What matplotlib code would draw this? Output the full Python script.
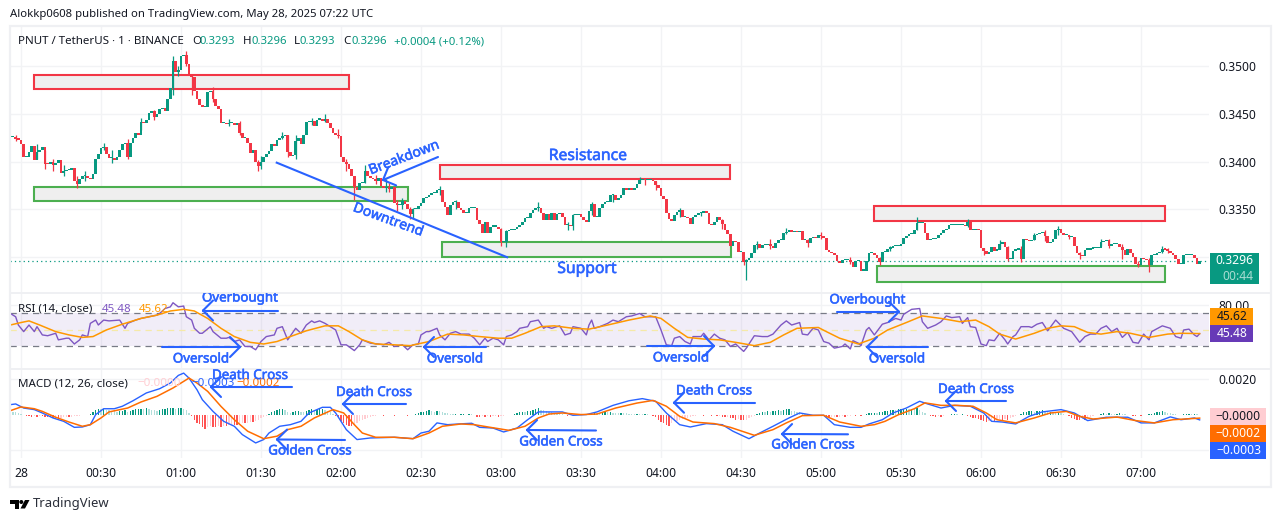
import numpy as np
import matplotlib
matplotlib.use("Agg")
import matplotlib.pyplot as plt
import matplotlib.patheffects as pe
from matplotlib.patches import Rectangle, Polygon, Circle

plt.rcParams['font.family'] = ['Noto Sans', 'DejaVu Sans']

# ---------- Data (prices in 1e-4 units, one close per minute from 23:56) ----------
first_minute = -4
closes = [
    3426,3426,3424,3423,3418,3405,3405,3410,3416,3402,3410,3412,3415,3398,
    3397,3400,3396,3399,3402,3388,3390,3391,3391,3393,
    3380,3377,3382,3385,3385,3383,3382,3387,3403,3408,
    3414,3415,3408,3404,3404,3402,3405,3412,3418,3419,
    3405,3420,3425,3430,3428,3441,3440,3444,3451,3453,
    3447,3450,3455,3456,3453,3465,3477,3505,3494,3496,
    3510,3512,3502,3492,3488,3474,3465,3459,3457,3457,
    3473,3474,3465,3458,3455,3440,3440,3439,3440,3440,
    3438,3440,3430,3425,3425,3419,3409,3412,3400,3395,
    3400,3405,3408,3411,3418,3416,3423,3425,3427,3428,
    3410,3406,3407,3422,3425,3418,3428,3441,3441,3443,
    3437,3444,3445,3443,3445,3440,3435,3430,3428,3427,
    3405,3400,3397,3392,3385,3373,3370,3378,3378,3390,
    3385,3383,3382,3380,3383,3375,3372,3373,3371,3373,
    3357,3355,3355,3359,3356,3350,3345,3350,3350,3354,
    3357,3362,3363,3365,3367,3367,3370,3370,3358,3353,
    3344,3355,3358,3358,3351,3349,3346,3346,3351,3351,
    3351,3339,3335,3325,3337,3325,3332,3332,3332,3330,
    3316,3316,3327,3328,3328,3330,3332,3334,3337,3341,
    3341,3346,3349,3351,3351,3346,3339,3345,3339,3346,
    3339,3345,3346,3342,3334,3334,3333,3344,3344,3345,
    3342,3339,3337,3348,3356,3342,3342,3351,3356,3358,
    3358,3365,3365,3360,3362,3365,3372,3370,3372,3370,
    3372,3377,3381,3382,3381,3381,3382,3380,3376,3372,
    3364,3361,3346,3340,3338,3344,3347,3349,3342,3342,
    3341,3335,3342,3344,3346,3346,3348,3346,3335,3334,
    3337,3342,3339,3335,3328,3324,3312,3317,3316,3305,
    3305,3295,3297,3299,3304,3313,3314,3310,3313,3313,
    3314,3312,3310,3315,3318,3318,3325,3326,3328,3326,
    3327,3326,3327,3318,3318,3315,3320,3321,3320,3323,
    3322,3320,3308,3306,3304,3302,3296,3294,3297,3297,
    3297,3295,3290,3296,3296,3286,3286,3296,3304,3304,
    3302,3299,3295,3305,3306,3309,3310,3312,3312,3312,
    3314,3320,3322,3324,3324,3328,3336,3336,3336,3325,
    3318,3319,3319,3320,3323,3325,3328,3330,3334,3334,
    3334,3334,3334,3334,3333,3337,3328,3328,3329,3328,
    3310,3307,3303,3306,3311,3307,3308,3314,3316,3311,
    3298,3298,3307,3308,3309,3298,3319,3318,3317,3318,
    3323,3324,3325,3326,3322,3315,3316,3319,3328,3330,
    3325,3323,3323,3321,3321,3312,3304,3302,3301,3308,
    3308,3309,3310,3310,3310,3316,3317,3318,3312,3314,
    3314,3314,3311,3308,3302,3309,3304,3300,3293,3292,
    3299,3298,3297,3292,3302,3302,3304,3305,3309,3308,
    3307,3304,3302,3298,3293,3293,3302,3302,3302,3302,
    3299,3293,3296,
]

wick_minutes = [-2,6,9,12,16,21,24,31,34,40,45,50,57,59,62,64,72,78,82,89,90,98,100,103,109,114,119,
                122,125,129,133,137,138,141,143,146,147,157,163,180,182,194,205,207,214,222,232,234,
                238,247,255,263,271,272,276,281,287,295,300,311,322,326,336,355,361,367,370,375,380,
                384,389,393,397,405,408,413,419,423,428,430]
wick_highs = [3428,3418,3412,3403,3396,3385,3390,3420,3412,3424,3446,3454,3510,3500,3516,3492,3478,3445,3442,3402,3406,3431,3428,3428,3446,3450,3434,
              3403,3380,3396,3386,3382,3378,3360,3362,3353,3352,3375,3360,3331,3328,3358,3337,3345,3358,3366,3384,3383,
              3380,3351,3347,3340,3299,3298,3317,3319,3331,3319,3326,3300,3300,3312,3342,3340,3310,3318,3312,3312,3325,
              3328,3333,3323,3306,3319,3319,3314,3296,3299,3312,3310]
wick_lows = [3422,3403,3392,3390,3385,3372,3380,3412,3399,3403,3433,3444,3470,3490,3500,3470,3462,3437,3428,3390,3392,3424,3405,3403,3438,3441,3425,
             3390,3360,3378,3377,3368,3368,3348,3350,3340,3341,3365,3350,3312,3311,3348,3328,3329,3344,3358,3378,3376,
             3370,3342,3343,3330,3292,3276,3309,3309,3324,3311,3319,3293,3292,3307,3328,3332,3302,3309,3296,3295,3318,
             3317,3323,3319,3298,3312,3310,3298,3290,3285,3304,3304]

price_ticks = [0.3500, 0.3450, 0.3400, 0.3350, 0.3300]
price_labels = ['0.3500', '0.3450', '0.3400', '0.3350', '']

# support and resistance zones: minute from, minute to, price low, price high (1e-4 units)
red_zones = [(4.8, 123, 3476, 3490.6), (157, 266, 3381.8, 3396.4), (320, 429, 3337.6, 3353.9)]
green_zones = [(4.8, 145, 3358.8, 3373.4), (158, 266.3, 3300, 3316), (321, 429, 3274, 3290.8)]
downtrend_minutes = [95.9, 182.3]
downtrend_prices = [3398.9, 3300]

rsi_minutes = [-4,-2,-1,1,3,5,6,8,10,13,14,17,18,20,22,23,25,26,28,29,31,33,37,39,40,43,45,48,51,52,54,56,57,59,61,62,64,65,67,68,71,72,75,77,78,80,82,84,86,88,90,92,95,96,98,100,103,105,107,109,110,112,114,116,118,120,122,125,127,128,131,134,136,138,140,143,145,147,149,150,152,
               153,156,157,159,161,163,165,168,170,172,174,175,177,179,181,182,184,186,187,190,191,194,196,197,199,202,204,206,207,210,212,213,214,215,217,220,222,224,227,229,232,234,238,240,242,244,245,247,249,251,252,255,256,258,260,262,264,266,268,271,272,275,278,280,282,285,287,289,292,293,295,297,299,301,303,305,308,309,311,312,314,
               315,317,318,320,323,325,328,330,331,334,337,338,340,343,345,347,349,352,353,355,356,358,360,362,363,365,367,369,370,372,373,375,378,379,381,383,385,388,391,394,397,399,401,403,405,407,409,411,413,415,417,419,421,423,424,428,431,433,435,436,438,440,441,442]
rsi_values = [70,66,56,48,56,48,54,44,43,46,38,40,40,33,38,44,42,58,62,56,62,61,62,52,58,62,64,66,68,70,76,78,83,78,79,66,62,52,46,46,54,48,40,40,41,36,38,30,30,26,36,42,44,52,54,38,52,46,56,61,59,61,58,54,50,32,32,25,32,38,34,33,32,35,30,32,26,32,33,44,48,
              48,52,44,38,46,48,45,45,40,32,40,36,40,38,32,42,44,48,52,54,60,62,52,54,52,55,44,46,54,52,44,56,62,52,54,58,62,60,66,67,70,66,66,50,32,31,40,42,36,33,42,42,46,38,45,40,38,30,33,24,28,43,42,42,45,56,61,56,59,45,44,52,50,36,34,28,30,33,27,37,34,
              31,50,53,44,57,59,64,62,69,75,76,60,52,56,60,67,65,66,58,65,54,53,33,31,38,37,46,38,33,42,44,54,54,53,57,59,49,62,52,48,35,42,45,45,52,55,48,52,41,47,35,34,45,38,48,55,52,42,40,50,51,44,42,45.48]

rsi_ma_minutes = [-4,0,3,7,13,18,23,27,32,38,45,51,56,61,65,70,75,80,86,91,96,101,107,114,119,123,128,133,140,146,153,
                  160,166,172,179,184,189,195,200,207,213,220,228,236,240,245,250,256,262,268,275,281,286,291,299,302,307,314,
                  320,325,332,338,345,352,358,363,367,373,380,385,390,395,400,405,411,416,423,430,435,442]
rsi_ma_values = [56,59,61,56,48,44,41,42,50,57,64,68,73,75,73,64,52,42,35,33,36,42,49,55,55,48,38,33,32,31,36,
                 45,44,42,40,40,46,54,55,52,51,56,62,67,64,52,41,39,38,35,31,35,44,52,53,48,40,33,
                 40,50,59,67,64,60,62,54,45,39,46,52,55,54,47,45,48,46,41,45,46,45.62]

# MACD pane values are in 1e-4 units
macd_minutes = [-4,-2,1,5,8,12,16,20,23,26,28,31,35,38,42,47,52,56,59,61,63,66,68,72,76,80,83,88,91,93,97,101,105,108,113,116,118,122,126,131,140,147,150,
                153,156,160,164,169,172,177,181,186,190,194,203,207,212,216,222,228,233,238,242,247,251,257,263,267,273,277,282,288,292,297,301,305,311,
                315,318,323,327,332,337,340,345,350,356,361,364,368,373,378,383,390,395,400,407,415,420,425,431,435,440,442]
macd_values = [5.6,6,3.7,2.8,.9,-1.9,-3.8,-7.2,-7,-5.7,0,3.3,3.3,4.7,7.8,12.2,14.6,17.8,22.1,23.4,20.6,14,8.4,1.8,-3.8,-6.6,-11.3,-16,-14.1,-10.4,-6.6,-5.7,-3.8,.9,4.1,4.1,.9,-8.5,-14.1,-13.2,-12.8,-13.6,-10.4,
               -9.4,-4.7,-5.7,-5.3,-4.9,-7.2,-7.6,-9.8,-7.6,-2.9,1.5,1.5,-.4,0,1.5,5.2,7.8,9,7.5,.9,-5.7,-7,-5.1,-5.7,-9.4,-13.6,-10.4,-6.6,-1.9,.9,-.4,-.4,-5.7,-7.2,
               -7.2,-5.3,-2.9,.9,3.7,7.5,6,3.7,5.2,4.7,.9,-3.8,-4.2,-5.3,-1,1.5,2.8,.9,-3.4,-1.5,-1.5,-4.7,-4.7,-1.3,-2.9,-1.9,-3]

signal_minutes = [-4,0,5,8,13,18,23,26,30,33,40,45,51,57,63,66,70,75,80,85,91,96,100,105,110,117,121,125,128,133,140,147,153,
                  158,165,170,176,183,189,194,198,203,210,216,223,231,237,242,247,252,260,266,275,282,287,293,301,307,315,
                  320,324,329,335,339,345,351,357,362,366,373,380,386,392,397,402,411,418,425,432,442]
signal_values = [2.2,4.3,3.3,1.8,-1.5,-4.2,-6.6,-5.7,-1.9,1.5,3.7,7.1,10.3,15,20.6,17.8,13.1,4.6,-2.9,-9.4,-13.6,-12.2,-8.5,-6.6,-1.9,2.8,.9,-5.7,-10.4,-12.8,-12.8,-13.6,-10.4,
                 -6.6,-5.3,-5.7,-7.2,-8.9,-6.6,-1.9,.3,.9,0,.3,3.7,6.5,8,4.7,-1,-4.2,-5.1,-7.2,-11.7,-8.5,-4.7,-.6,-.4,-4.2,-6.6,
                 -5.7,-3.8,-.1,3.3,6.6,5.2,5.2,4.7,.9,-2.9,-4.7,-1.9,.9,1.8,-1,-2.5,-1.4,-3.4,-4.7,-2.9,-2]

hist_values = [
    1.5,1.4,1.2,1.0,.6,-.4,-.7,-.9,-1.1,-1.0,-1.3,-.8,-1.0,-1.2,
    -1.4,-1.6,-1.8,-1.6,-1.9,-1.7,-1.5,-1.3,-1.5,-1.2,
    -1.0,-.8,-.6,-.5,-.3,-.2,.5,1.5,2.6,3.2,
    3.0,3.4,2.8,2.4,2.2,1.9,1.6,1.8,2.3,2.4,
    1.6,2.2,2.6,2.9,3.1,3.4,3.0,3.6,3.2,2.8,
    2.4,2.2,2.6,2.9,3.1,3.5,3.7,3.9,3.4,3.7,
    3.9,3.4,2.4,1.0,-.8,-3,-4.5,-5.5,-7,-8,
    -7.2,-6.4,-6.8,-7.2,-6.5,-7.0,-6.4,-6.6,-5.8,-5.4,
    -5.6,-5.8,-5.2,-4.8,-5,-4.6,-4.2,-4.4,-3.8,-3,
    -2.2,-1.6,-.8,.4,1.2,1.8,2.6,3.1,3.4,2.6,
    1.2,1.0,1.3,1.9,2.2,1.6,1.5,2.1,2.6,2.9,
    2.2,2.7,3.0,3.3,2.8,2.1,1.4,.4,-.6,-1.8,
    -3.4,-4.8,-5.8,-6.2,-6.4,-5.6,-4.8,-3.9,-3,-2.4,
    -1.8,-1.3,-.9,-.7,-.5,-.4,-.6,-.3,-.2,-.5,
    -.7,-.5,-.4,-.3,-.2,-.6,-.4,-.3,.3,.8,
    1.2,1.5,1.8,2.4,2.0,1.3,2.2,2.0,1.6,1.1,
    .7,.4,.3,.3,-.2,.2,.3,-.2,.3,.2,
    -.3,-1.1,-1.3,-1,-1.4,-.8,-1.2,-1,-.7,-1.2,
    -1,-.8,-.5,-.4,-.2,.4,.9,1.2,1.6,1.4,
    1.8,2.2,2.6,3.0,3.5,2.8,2.4,2.0,1.6,1.2,
    1,.8,.5,.2,-.3,-.8,-.5,-.4,-.2,.2,
    .1,-.2,.2,.4,.8,1,.9,.7,1.1,1.3,
    1.2,1.4,1.1,.9,.8,1,.8,.7,.6,.4,
    .3,.4,.2,.1,.2,.1,-.1,-.6,-1.6,-3,
    -4,-5,-6,-6.5,-4.6,-3.8,-3.4,-3,-2.4,-2,
    -1.8,-1.2,-.9,-.6,-.2,-.5,-.8,-.4,-.3,-.7,
    -.5,-.9,-.6,-1.2,-1.6,-1.4,-2,-2.2,-2.8,-2.4,
    -3,-3.2,-2.8,-2.2,-1.4,-.8,.5,1,1.4,1.3,
    1.8,1.6,2,2.2,2.5,2.3,2.6,3,3.3,2.2,
    1.8,1.5,1.2,.8,.6,.3,-.2,-.5,-.3,-.7,
    -.4,-.9,-1.2,-1.6,-1.4,-1.1,-1.6,-1.3,-.9,-1.2,
    -.9,-.6,-.4,-.7,-.5,-.7,-.4,.6,.9,1.0,
    1.1,1.0,1.4,1.7,2,2.2,2.4,2.7,2.6,2.9,
    3,3.1,3.3,3,3.4,3.2,3.5,2.6,1.6,.9,
    -.2,-.7,-.9,-1.2,-1,-1.1,-.6,-.3,-.2,.2,
    .3,.1,-.1,.2,-.3,-.8,-1.2,-1.8,-2.2,-2.6,
    -3,-3.6,-4,-3.6,-3.2,-3.4,-3,-2.6,-2.8,-2.4,
    -2.8,-2.2,-1.6,-1,-.5,.6,1.2,1.4,1.8,2,
    1.6,2,2.3,2.4,1.8,1.2,1.3,1,.8,.9,
    .7,.5,-.3,-1,-1.8,-2.4,-2.8,-3,-2.6,-2.8,
    -2.2,-1.6,-1,-.5,-.2,.4,.7,.6,.9,.6,
    .4,.5,.7,.3,.1,-.2,-.4,-.6,-.9,-.5,
    -.7,-.4,-.2,.2,.5,.9,1.2,1.5,1.9,1.4,
    1,.7,.4,.2,-.2,-.3,.2,.3,.5,.2,.4,.1,-.1,
]

time_ticks = list(range(0, 421, 30))
time_labels = ['28', '00:30', '01:00', '01:30', '02:00', '02:30', '03:00', '03:30', '04:00',
               '04:30', '05:00', '05:30', '06:00', '06:30', '07:00']

# ---------- Colors ----------
UP = '#089981'
DOWN = '#f23645'
BLUE = '#2962ff'
GRID = '#f2f3f5'
FRAME = '#eff0f3'
TEXT = '#131722'
PURPLE = '#7e57c2'
ORANGE = '#ff9800'
MACD_ORANGE = '#ff6d00'

W, H = 1281, 522
fig = plt.figure(figsize=(W / 100, H / 100), dpi=100, facecolor='white')

def add_pane(top, bottom, left=10, right=1209):
    # panes are placed from their pixel rows in the reference
    ax = fig.add_axes([left / W, 1 - bottom / H, (right - left) / W, (bottom - top) / H])
    for side in ax.spines.values():
        side.set_visible(False)
    ax.set_xlim(-4.125, 445.5)
    ax.set_xticks(time_ticks)
    ax.grid(True, color=GRID, lw=1)
    ax.set_axisbelow(True)
    ax.yaxis.tick_right()
    ax.tick_params(axis='both', length=0, labelsize=8.7, labelcolor=TEXT, pad=6.5)
    ax.tick_params(axis='x', labelbottom=False)
    return ax

# ---------- Price pane ----------
ax = add_pane(27, 293)
ax.set_ylim(0.32626, 0.35408)
ax.set_yticks(price_ticks)
ax.set_yticklabels(price_labels)

minutes = np.arange(first_minute, first_minute + len(closes))
close = np.array(closes) / 1e4
opens = np.r_[close[0], close[:-1]]
candle_colors = [UP if c >= o else DOWN for o, c in zip(opens, close)]
ax.vlines(wick_minutes, np.array(wick_lows) / 1e4, np.array(wick_highs) / 1e4,
          colors=[candle_colors[m - first_minute] for m in wick_minutes], lw=0.9, zorder=3)
ax.bar(minutes, np.maximum(np.abs(close - opens), 0.00012), bottom=np.minimum(opens, close),
       width=0.88, color=candle_colors, lw=0, zorder=3)
ax.axhline(close[-1], color=UP, lw=0.9, ls=(0, (1, 2.5)), zorder=2)

for zones, edge in [(red_zones, DOWN), (green_zones, '#4caf50')]:
    for m0, m1, p0, p1 in zones:
        ax.add_patch(Rectangle((m0, p0 / 1e4), m1 - m0, (p1 - p0) / 1e4, facecolor='#efefef',
                               edgecolor=edge, lw=1.5, zorder=2))
ax.plot(downtrend_minutes, np.array(downtrend_prices) / 1e4, color=BLUE, lw=1.5, zorder=4)

# ---------- RSI pane ----------
ax_rsi = add_pane(293, 368.5)
ax_rsi.set_ylim(3.3, 94.8)
ax_rsi.set_yticks([80])
ax_rsi.set_yticklabels(['80.00'])
ax_rsi.axhspan(30, 70, color=PURPLE, alpha=0.1, lw=0)
ax_rsi.axhline(70, color='#787b86', lw=0.9, ls=(0, (5, 4)))
ax_rsi.axhline(30, color='#787b86', lw=0.9, ls=(0, (5, 4)))
ax_rsi.axhline(50, color='#f5e9a8', lw=0.9, ls=(0, (5, 4)))
ax_rsi.plot(rsi_minutes, rsi_values, color=PURPLE, lw=1)
ax_rsi.plot(rsi_ma_minutes, rsi_ma_values, color=ORANGE, lw=1.1)

# ---------- MACD pane ----------
ax_macd = add_pane(368.5, 458)
ax_macd.set_ylim(-24.5, 26)
ax_macd.set_yticks([20, -20])
ax_macd.set_yticklabels(['0.0020', ''])
ax_macd.set_xticklabels(time_labels)
ax_macd.tick_params(axis='x', labelbottom=True, pad=6.5)
ax_macd.get_xticklabels()[0].set_fontweight('bold')

hist_colors = []
previous = 0
for v in hist_values:
    if v >= 0:
        hist_colors.append(UP if v >= previous else '#b2dfdb')
    else:
        hist_colors.append('#ffcdd2' if v >= previous else '#ff5252')
    previous = v
ax_macd.bar(minutes, hist_values, width=0.38, color=hist_colors, lw=0)
ax_macd.plot(macd_minutes, macd_values, color=BLUE, lw=1)
ax_macd.plot(signal_minutes, signal_values, color=MACD_ORANGE, lw=1.1)

# ---------- Overlay in pixel rows: frame, legends, labels, drawn arrows ----------
over = fig.add_axes([0, 0, 1, 1], zorder=10)
over.set_xlim(0, W)
over.set_ylim(H, 0)
over.axis('off')
over.patch.set_alpha(0)

over.add_patch(Rectangle((9.5, 26), 1261.5, 461, fill=False, edgecolor=FRAME, lw=1.6))
over.plot([10, 1271], [293, 293], color=FRAME, lw=1.4)
over.plot([10, 1271], [368.5, 368.5], color=FRAME, lw=1.4)

def label(x, y, s, color=TEXT, size=8.6, **kw):
    kw.setdefault('va', 'center')
    return over.text(x, y, s, color=color, fontsize=size, **kw)

label(10, 15, 'Alokkp0608 published on TradingView.com, May 28, 2025 07:22 UTC', size=8.15)
label(18, 41.5, 'PNUT / TetherUS · 1 · BINANCE', size=8.3)
for x, s in [(192, 'O'), (243, 'H'), (294, 'L'), (343, 'C')]:
    label(x, 41.5, s, size=8.3)
for x, s in [(200, '0.3293'), (252, '0.3296'), (300, '0.3293'), (351, '0.3296'), (394, '+0.0004 (+0.12%)')]:
    label(x, 41.5, s, color=UP, size=8.15)

label(18, 309, 'RSI (14, close)', size=8.3)
label(102, 309, '45.48', color=PURPLE, size=8.3)
label(139, 309, '45.62', color=ORANGE, size=8.3)
label(18, 384, 'MACD (12, 26, close)', size=8.3)
label(137, 384, '−0.0000', color='#ffcdd2', size=8.3)
label(191, 384, '−0.0003', color=BLUE, size=8.3)
label(236, 384, '−0.0002', color=MACD_ORANGE, size=8.3)

def tag(x0, x1, y0, y1, face, s, color):
    over.add_patch(Rectangle((x0, y0), x1 - x0, y1 - y0, facecolor=face, edgecolor='none'))
    label(x1 - 5, (y0 + y1) / 2, s, color=color, ha='right', size=8.7)

# last price tag
over.add_patch(Rectangle((1210, 253), 48.5, 31, facecolor=UP, edgecolor='none', zorder=3))
label(1253, 261, '0.3296', color='white', ha='right', size=8.7, fontweight='bold', zorder=4)
label(1253, 276, '00:44', color='#a8dcd2', ha='right', size=8.7, zorder=4)

tag(1210, 1253, 308, 325, ORANGE, '45.62', TEXT)
tag(1210, 1253, 325, 342, '#673ab7', '45.48', 'white')
tag(1210, 1266, 408, 425, '#ffcdd2', '−0.0000', TEXT)
tag(1210, 1266, 425, 441.7, MACD_ORANGE, '−0.0002', 'white')
tag(1210, 1266, 441.7, 458.7, BLUE, '−0.0003', 'white')

def arrow(tail, tip, head=10):
    # open headed arrow, tip drawn as a V
    tail = np.array(tail, float)
    tip = np.array(tip, float)
    d = (tail - tip) / np.hypot(*(tail - tip))
    n = np.array([-d[1], d[0]])
    over.plot([tail[0], tip[0]], [tail[1], tip[1]], color=BLUE, lw=1.5, solid_capstyle='round')
    for s in (1, -1):
        end = tip + head * d + s * head * n
        over.plot([tip[0], end[0]], [tip[1], end[1]], color=BLUE, lw=1.5, solid_capstyle='round')

def note(x, y, s, rotation=0, size=9.6, clip_ax=None):
    t = label(x, y, s, color=BLUE, size=size, ha='center', rotation=rotation, rotation_mode='anchor', alpha=0.9)
    # the drawing text in the reference is heavier than the regular weight
    t.set_path_effects([pe.withStroke(linewidth=0.45, foreground=BLUE)])
    if clip_ax is not None:
        t.set_clip_box(clip_ax.bbox)
        t.set_clip_on(True)
    return t

note(404, 158, 'Breakdown', rotation=21, size=10)
arrow((438, 157), (383, 180))
note(388, 220, 'Downtrend', rotation=-20, size=10)
note(588, 156, 'Resistance', size=11.3)
note(587, 269, 'Support', size=11.3)

note(240, 298, 'Overbought', clip_ax=ax_rsi)
arrow((278, 310.5), (203, 310.5))
note(201, 359, 'Oversold')
arrow((162, 347), (240, 347))
note(455, 359, 'Oversold')
arrow((486, 347), (424, 347))
note(681, 358, 'Oversold')
arrow((647, 346), (714, 346))
note(867.5, 300, 'Overbought')
arrow((837, 311.7), (899, 311.7))
note(897, 359, 'Oversold')
arrow((928, 347), (867, 347))

note(250, 375.5, 'Death Cross')
arrow((292, 387), (211, 387))
note(374, 392.5, 'Death Cross')
arrow((406, 404), (343, 404))
note(310, 451, 'Golden Cross')
arrow((345, 440), (277, 439.5))
note(561, 442, 'Golden Cross')
arrow((596, 430.5), (527, 430))
note(714, 391, 'Death Cross')
arrow((755, 402.7), (674, 402.7))
note(813, 445, 'Golden Cross')
arrow((848, 434.3), (782, 434))
note(976, 389.5, 'Death Cross')
arrow((1006, 401), (946, 401))

# footer logo and name
over.add_patch(Polygon([(10, 500), (19, 500), (19, 508.5), (15, 508.5), (15, 504), (10, 504)], color='black', lw=0))
over.add_patch(Circle((21.3, 502), 2, color='black', lw=0))
over.add_patch(Polygon([(25, 500), (29.5, 500), (25, 508.5), (20.5, 508.5)], color='black', lw=0))
label(33, 504, 'TradingView', size=9.4, color='#2a2e39')

fig.savefig('out.png', dpi=100)
plt.close(fig)
